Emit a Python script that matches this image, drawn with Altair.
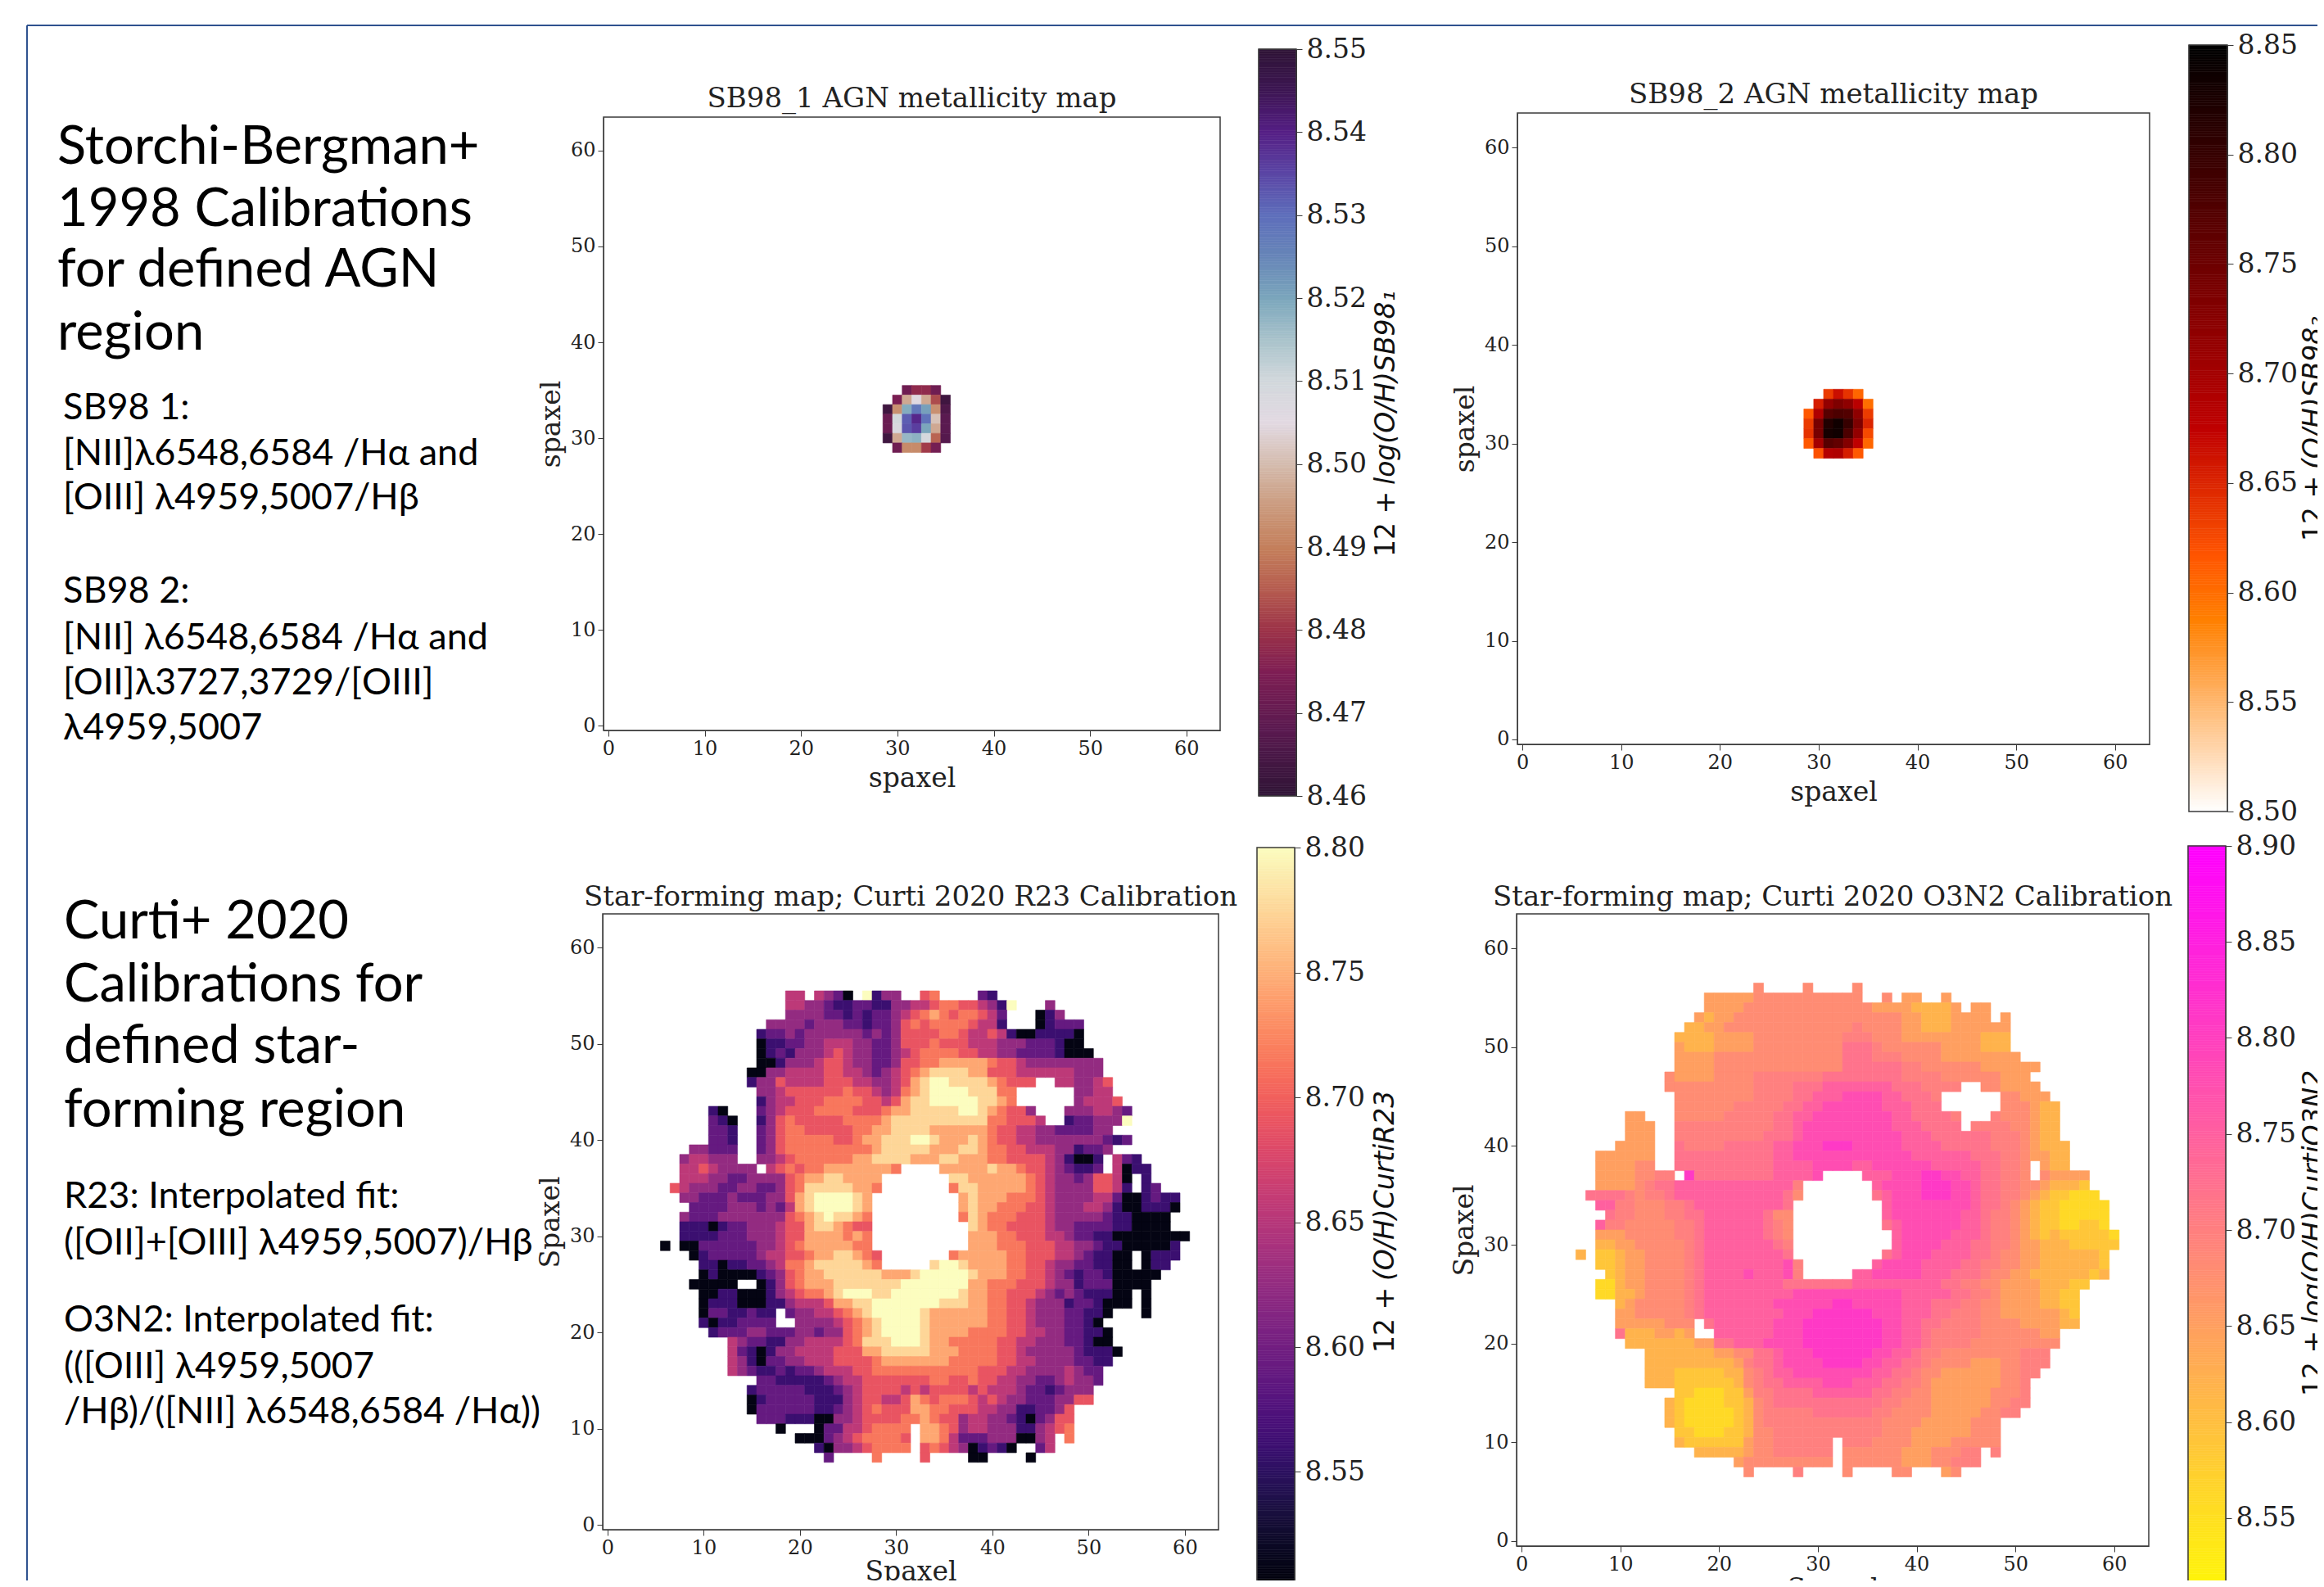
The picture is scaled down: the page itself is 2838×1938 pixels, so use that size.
import altair as alt
import pandas as pd

W, H = 2822, 1922   # canvas; the page adds 8 px all round
OFF = 8

# ---------- map values ----------
# row number -> (first column, one code per column, '.' = no data; spaces only group columns)
R23_LEVELS = {'0': 8.51, '1': 8.56, '2': 8.59, '3': 8.625, '4': 8.655, '5': 8.69, '6': 8.715, '7': 8.745, '8': 8.775, '9': 8.80}
R23_ROWS = {
55: (19, "4 4.4320.913 3..56....2 1"),
54: (19, "4 4332112211 3344566554 319...3"),
53: (19, "3 3332212122 3456765665 42...013"),
52: (17, "333 3233322122 3565666654 41...01222"),
51: (16, "1223 2333333232 3555566544 5410011110"),
50: (16, "0112 2334443322 3555655544 4333222100"),
49: (16, "0121 3334543322 3456666554 4332222100 0"),
48: (16, "0013 3345543322 3556677777 6554333333 33"),
47: (15, "00334 4445544323 4567888877 5554444443 33"),
46: (15, "13354 4445554433 4578998888 76555..443 345"),
45: (16, "3345 5555565543 4678999988 866......3 344"),
44: (16, "1344 5556666554 5788999998 876......3 4445"),
43: (11, "10...2345 5566665556 7788888998 76553...33 34432"),
42: (11, "210..1356 5555566667 8888888888 665554..12 23339"),
41: (11, "221..2356 6555556677 8888777777 6554433222 233"),
40: (11, "221..2356 6666556778 8899877787 6554433333 33212"),
39: (9, "3 3222..2356 6666666678 8888777887 6655444331 223"),
38: (8, "34 4333..3345 6666667788 8877788777 6655554310 01.421"),
37: (8, "44 543333.456 5667777777 6....77777 8776554321 12.4011"),
36: (8, "44 4332233335 677887777. ......8877 7777654332 35540.1"),
35: (7, "543 3322332235 688888776. ......6887 7777654333 35541.12"),
34: (8, "33 2223222335 78999987.. .......787 7766654333 3442001211"),
33: (9, "2 2223332324 78999987.. .......787 7666554333 4431001110"),
32: (8, "32 2233333335 67898876.. .......687 6665554333 332110000"),
31: (8, "11 1012233345 57887655.. ........87 6655554332 222110000"),
30: (8, "11 1122233345 57777676.. ........77 7665554432 2110000000 0"),
29: (6, "0.00 2222223345 67777766.. ........77 7666555443 3211000001"),
28: (9, "0 1222223445 567788765. ......6777 7766555443 21100.0111"),
27: (10, "1101122346 678888876. ....899877 7766554332 21100.011"),
26: (10, "0100001235 6778888887 7789999987 7766554321 22100000"),
25: (9, "0 0000..0135 6777888888 8999999977 6665554331 2220000"),
24: (10, "0011000134 5667899988 9999999877 6655543232 11100.0"),
23: (10, "0111000113 4445778899 9999988877 6655433312 21000.0"),
22: (10, "02211211.2 3344567899 9998777777 6655433322 110...0"),
21: (10, "10112222.. 3333456789 9998777777 6655433322 10"),
20: (11, "122233222 3323356789 9998777766 6655443322 110"),
19: (13, "4322113 3444456888 9998776666 6554433322 100"),
18: (13, "4210133 4444555778 8888777666 6554333332 1110"),
17: (13, "4310223 3444555567 7777776666 6554433332 211"),
16: (13, "4321121 2234445566 6666666665 5544333343 22"),
15: (16, "2211 1112344555 5555665565 5443322343 32"),
14: (15, "12222 2111234555 5454555545 4443221233 3"),
13: (15, "01222 2211134554 4576566654 5433222335 5"),
12: (15, "02222 2211234565 5577665554 433112235"),
11: (16, "2221 1100334555 5667655344 332102355"),
10: (18, "0. ..02244566 66.7765344 333113456"),
9: (20, "0002345666 65.7764222 3330034.6"),
8: (22, "10334566 66.5654301 210..24"),
7: (23, "2....6....5....00....0"),
}

O3N2_LEVELS = {'0': 8.56, '1': 8.59, '2': 8.62, '3': 8.65, '4': 8.68, '5': 8.70, '6': 8.72, '7': 8.75, '8': 8.78, '9': 8.81}
O3N2_ROWS = {
56: (24, "4....4....4"),
55: (19, "3333344444444444" + ".." + "4" + "." + "33" + ".." + "3"),
54: (19, "3333" + "4444444444444" + "3333" + "2222" + "3" + "." + "33"),
53: (18, "3233" + "44444444444444444" + "33222" + "3333" + "." + "3"),
52: (17, "2233" + "4444444444444" + "54444" + "33" + "222" + "333333"),
51: (16, "2222" + "3333" + "444444444" + "555" + "444" + "3333" + "3333" + "222"),
50: (16, "3222" + "3333" + "444444444" + "666" + "544" + "4444" + "3333" + "222"),
49: (16, "3333" + "4444" + "444444444" + "666" + "555" + "4444" + "3333" + "3333"),
48: (16, "3333" + "4444" + "444444444" + "666" + "666" + "5544" + "4444" + "3333" + "33"),
47: (15, "4" + "3333" + "4444" + "5555" + "55566" + "666" + "666" + "5555" + "4444" + "4433" + "3"),
46: (15, "4" + "4444" + "4444" + "5555" + "66677" + "777" + "776" + "6655" + "55" + ".." + "44" + "33" + "33"),
45: (16, "4444" + "4444" + "5555" + "66777" + "888" + "877" + "6665" + "......" + "44" + "333"),
44: (16, "4444" + "4455" + "5556" + "67788" + "888" + "877" + "7666" + "......" + "44" + "4322"),
43: (11, "33" + "..." + "4444" + "4555" + "5566" + "77888" + "888" + "887" + "7666" + "65" + "..." + "54" + "44" + "322"),
42: (11, "333" + ".." + "5555" + "5555" + "5566" + "78888" + "888" + "887" + "7766" + "66" + "." + "55" + "55" + "44" + "322"),
41: (11, "333" + ".." + "5555" + "5555" + "5666" + "78888" + "888" + "888" + "7776" + "666" + "66" + "55" + "54" + "322"),
40: (10, "3333" + ".." + "6555" + "5666" + "6677" + "88899" + "988" + "888" + "7777" + "666" + "66" + "55" + "54" + "3222"),
39: (8, "333333" + ".." + "6666" + "6666" + "6677" + "88888" + "888" + "888" + "8777" + "777" + "66" + "65" + "54" + "3322"),
38: (8, "333344" + ".." + "6666" + "6666" + "6677" + "77888" + "877" + "888" + "8887" + "777" + "76" + "65" + "5" + "4" + "." + "322"),
37: (8, "33334455" + "." + "966" + "6666" + "6677" + "778" + "...." + "7778" + "8899" + "887" + "76" + "65" + "5" + "4" + "." + "4" + "3333"),
36: (8, "33334566" + "7777" + "7777" + "7777" + "5" + "......." + "7888" + "8999" + "88" + "76" + "65" + "54" + "43" + "22" + "21"),
35: (7, "6666" + "5455" + "6777" + "7777" + "7777" + "64" + "......." + "6788" + "8999" + "88" + "76" + "65" + "54" + "32" + "1100" + "0"),
34: (8, "77" + "5544" + "45" + "5677" + "7777" + "7776" + "........." + "788" + "8888" + "88" + "76" + "65" + "43" + "21" + "100" + "000"),
33: (9, "6554" + "445" + "5667" + "7777" + "7644" + "........." + "788" + "8888" + "87" + "76" + "55" + "43" + "21" + "100" + "000"),
32: (8, "7" + "5544" + "444" + "5567" + "7777" + "7654" + "........." + "678" + "8888" + "87" + "76" + "55" + "43" + "21" + "100" + "110"),
31: (8, "3" + "33444" + "44" + "5567" + "7777" + "7654" + ".........." + "78" + "8888" + "77" + "76" + "55" + "43" + "21" + "211" + "1110"),
30: (8, "2" + "23344" + "44" + "4567" + "7777" + "7765" + ".........." + "78" + "8887" + "77" + "66" + "55" + "43" + "32" + "221" + "1111"),
29: (6, "2" + "." + "1" + "12334" + "44" + "4567" + "7777" + "7776" + "........." + "678" + "8877" + "77" + "66" + "54" + "43" + "32" + "222" + "221"),
28: (8, "1" + "12334" + "44" + "4567" + "7777" + "7778" + "5" + "......." + "788" + "8" + "8777" + "76" + "65" + "54" + "43" + "32" + "222" + "221"),
27: (9, "12334" + "44" + "4567" + "7778" + "7778" + "5" + "....." + "778" + "8888" + "7776" + "66" + "54" + "43" + "32" + "222" + "221" + "2"),
26: (8, "00" + "2334" + "44" + "4567" + "7777" + "7776" + "6" + "6666" + "6777" + "7777" + "7766" + "55" + "44" + "33" + "33" + "222" + "11"),
25: (8, "00" + "2234" + "44" + "4567" + "7777" + "7777" + "8888" + "8888" + "8887" + "7777" + "665" + "54" + "33" + "33" + "2211"),
24: (10, "2344" + "44" + "4567" + "7777" + "7788" + "8888" + "9988" + "8887" + "7766" + "655" + "44" + "33" + "33" + "2211"),
23: (10, "3344" + "44" + "4567" + "7777" + "7778" + "8899" + "9999" + "8887" + "7766" + "555" + "44" + "33" + "33" + "3321"),
22: (10, "3333" + "34" + "44" + "." + "6" + "7777" + "7788" + "8999" + "9999" + "9887" + "7665" + "555" + "44" + "44" + "33" + "3322"),
21: (10, "6" + "222" + "33" + "23" + ".." + "7777" + "7788" + "8999" + "9999" + "9887" + "7655" + "555" + "44" + "44" + "44" + "33"),
20: (11, "222" + "22" + "2233" + "6677" + "7888" + "8999" + "9999" + "9887" + "7655" + "554" + "44" + "44" + "44" + "44"),
19: (13, "222" + "2222" + "3344" + "6678" + "8899" + "9999" + "8877" + "6554" + "444" + "44" + "44" + "555"),
18: (13, "222" + "2222" + "2235" + "6678" + "8889" + "9998" + "8776" + "6544" + "443" + "33" + "44" + "555"),
17: (13, "222" + "1111" + "1224" + "5677" + "8888" + "8888" + "7766" + "5443" + "333" + "33" + "44" + "55"),
16: (13, "222" + "1111" + "1124" + "5667" + "7778" + "8877" + "7665" + "5433" + "333" + "33" + "44" + "5"),
15: (16, "1100" + "0113" + "5566" + "6677" + "7777" + "6655" + "4433" + "333" + "34" + "44" + "5"),
14: (15, "2" + "1000" + "0112" + "4566" + "6666" + "6666" + "6554" + "4433" + "333" + "34" + "45" + "5"),
13: (15, "2" + "1000" + "0012" + "4555" + "5566" + "6666" + "5544" + "4433" + "333" + "44" + "55"),
12: (15, "2" + "1000" + "0012" + "4555" + "5555" + "5555" + "5444" + "4333" + "334" + "44"),
11: (16, "1100" + "0112" + "4455" + "5555" + "5555" + "5444" + "3333" + "334" + "44"),
10: (16, "2111" + "1113" + "4455" + "5555" + "." + "555" + "4444" + "3333" + "444" + "44"),
9: (18, "22" + "2223" + "4455" + "5555" + "." + "444" + "4443" + "3344" + "455" + "." + "5"),
8: (22, "34" + "4444" + "4444" + "." + "444" + "4443" + "3344" + "555"),
7: (23, "4" + "...." + "5" + "...." + "4" + "...." + "44" + "..." + "34"),
}

SB1_ROWS = {
35: (31, [8.472, 8.478, 8.478, 8.472]),
34: (30, [8.474, 8.497, 8.506, 8.497, 8.483, 8.463]),
33: (29, [8.463, 8.493, 8.519, 8.528, 8.521, 8.493, 8.466]),
32: (29, [8.471, 8.510, 8.532, 8.539, 8.529, 8.501, 8.468]),
31: (29, [8.471, 8.508, 8.533, 8.536, 8.520, 8.497, 8.468]),
30: (29, [8.463, 8.497, 8.517, 8.518, 8.509, 8.486, 8.467]),
29: (30, [8.472, 8.492, 8.492, 8.481, 8.473]),
}
SB2_ROWS = {
35: (31, [8.635, 8.665, 8.640, 8.605]),
34: (30, [8.655, 8.715, 8.735, 8.720, 8.680, 8.600]),
33: (29, [8.615, 8.690, 8.770, 8.780, 8.775, 8.720, 8.635]),
32: (29, [8.635, 8.740, 8.820, 8.835, 8.800, 8.735, 8.650]),
31: (29, [8.640, 8.740, 8.830, 8.835, 8.780, 8.715, 8.625]),
30: (29, [8.615, 8.700, 8.770, 8.760, 8.730, 8.675, 8.605]),
29: (30, [8.620, 8.685, 8.690, 8.655, 8.615]),
}

TICKS_MAP = [0, 10, 20, 30, 40, 50, 60]
TICKS_A = [8.46, 8.47, 8.48, 8.49, 8.50, 8.51, 8.52, 8.53, 8.54, 8.55]
TICKS_B = [8.50, 8.55, 8.60, 8.65, 8.70, 8.75, 8.80, 8.85]
TICKS_C = [8.50, 8.55, 8.60, 8.65, 8.70, 8.75, 8.80]
TICKS_D = [8.55, 8.60, 8.65, 8.70, 8.75, 8.80, 8.85, 8.90]

SCALE_A = dict(domain=[8.46, 8.468, 8.475, 8.48, 8.485, 8.49, 8.495, 8.50, 8.505, 8.51, 8.515, 8.52, 8.525, 8.53, 8.535, 8.54, 8.545, 8.55],
               range=["#2f1436", "#5a1a50", "#7f1f54", "#9c3348", "#b65d50", "#c4805c", "#cb9b7f", "#d4bcae", "#e2d9e2",
                      "#d2d8dc", "#a9c3cb", "#7ba6bc", "#6786b8", "#5e6ebb", "#5b46a5", "#551f85", "#3d1653", "#2f1436"],
               interpolate="rgb")
SCALE_B = dict(domain=[8.50, 8.5875, 8.617, 8.675, 8.85], range=["#ffffff", "#ff8000", "#ff5500", "#bf0000", "#000000"], interpolate="rgb")
SCALE_C = dict(domain=[8.50, 8.80], scheme="magma")
SCALE_D = dict(domain=[8.50, 8.90], range=["#ffff00", "#ff00ff"], interpolate="rgb")

HEAD1 = ["Storchi-Bergman+", "1998 Calibrations", "for defined AGN", "region"]
HEAD1_Y = [200, 276, 350, 427]
SUB1 = ["SB98 1:", "[NII]λ6548,6584 /Hα and", "[OIII] λ4959,5007/Hβ", "SB98 2:", "[NII] λ6548,6584 /Hα  and", "[OII]λ3727,3729/[OIII]", "λ4959,5007"]
SUB1_Y = [512, 568, 622, 736, 793, 848, 903]
HEAD2 = ["Curti+ 2020", "Calibrations for", "defined star-", "forming region"]
HEAD2_Y = [1146, 1223, 1298, 1376]
SUB2 = ["R23: Interpolated fit:", "([OII]+[OIII] λ4959,5007)/Hβ", "O3N2: Interpolated fit:", "(([OIII] λ4959,5007", "/Hβ)/([NII] λ6548,6584 /Hα))"]
SUB2_Y = [1475, 1532, 1626, 1683, 1738]

SERIF = "DejaVu Serif"
INK = "#3a3a3a"


def cells(rows, levels=None):
    out = []
    for row, (start, codes) in rows.items():
        if isinstance(codes, str):
            codes = codes.replace(" ", "")
        for k, c in enumerate(codes):
            if c == '.':
                continue
            v = levels[c] if levels else c
            col = start + k
            out.append({"x0": col - .5, "x1": col + .5, "y0": row - .5, "y1": row + .5, "v": v})
    return pd.DataFrame(out)


def text_layer(xs, ys, texts, size, font="Lato", angle=None, style=None, color="#000000", align="left", baseline="alphabetic", weight=None):
    df = pd.DataFrame({"px": [x - OFF for x in xs], "py": [y - OFF for y in ys], "t": texts})
    kw = dict(align=align, baseline=baseline, font=font, fontSize=size, color=color)
    if angle is not None:
        kw["angle"] = angle
    if style:
        kw["fontStyle"] = style
    if weight:
        kw["fontWeight"] = weight
    return alt.Chart(df).mark_text(**kw).encode(
        x=alt.X("px:Q", scale=None, axis=None),
        y=alt.Y("py:Q", scale=None, axis=None),
        text="t:N")


def map_layers(box, rows, levels, cscale, xtitle, ytitle, title, title_y, xpad=8):
    xl, xr, yt, yb = [b - OFF for b in box]
    sx = alt.Scale(domain=[-0.5, 63.5], range=[xl, xr], nice=False, zero=False)
    sy = alt.Scale(domain=[-0.5, 63.5], range=[yb, yt], nice=False, zero=False)
    ax = dict(grid=False, values=TICKS_MAP, format="d", labelFont=SERIF, labelFontSize=24, labelColor="#222222",
              tickColor=INK, domainColor=INK, tickSize=7, titleFont=SERIF, titleFontWeight="normal", titleColor="#222222")
    heat = alt.Chart(cells(rows, levels)).mark_rect(strokeWidth=0.6).encode(
        x=alt.X("x0:Q", scale=sx, axis=alt.Axis(orient="bottom", offset=yb - H, title=xtitle, titleFontSize=33, labelPadding=3, titlePadding=xpad, **ax)),
        x2="x1:Q",
        y=alt.Y("y0:Q", scale=sy, axis=alt.Axis(orient="left", offset=-xl, title=ytitle, titleFontSize=33, labelPadding=3, titlePadding=6, **ax)),
        y2="y1:Q",
        color=alt.Color("v:Q", scale=alt.Scale(**cscale), legend=None),
        stroke=alt.Stroke("v:Q", scale=alt.Scale(**cscale), legend=None))
    frame = alt.Chart(pd.DataFrame({"a": [-0.5], "b": [63.5]})).mark_rect(filled=False, stroke=INK, strokeWidth=1.5).encode(
        x=alt.X("a:Q", scale=sx, axis=None), x2="b:Q",
        y=alt.Y("a:Q", scale=sy, axis=None), y2="b:Q")
    head = text_layer([(box[0] + box[1]) / 2], [title_y], [title], 34, font=SERIF, align="center", color="#222222")
    return [heat, frame, head]


def bar_layers(box, y_top, y_low, dom, ticks, cscale):
    xl, xr = box[0] - OFF, box[1] - OFF
    sx = alt.Scale(domain=[0, 1], range=[xl, xr], nice=False, zero=False)
    sy = alt.Scale(domain=dom, range=[y_low - OFF, y_top - OFF], nice=False, zero=False)
    n = 320
    step = (dom[1] - dom[0]) / n
    ramp = pd.DataFrame({"a": [0] * n, "b": [1] * n,
                         "lo": [dom[0] + i * step for i in range(n)],
                         "hi": [dom[0] + (i + 1) * step for i in range(n)],
                         "v": [dom[0] + (i + .5) * step for i in range(n)]})
    r = alt.Chart(ramp).mark_rect(strokeWidth=0.6).encode(
        x=alt.X("a:Q", scale=sx, axis=None), x2="b:Q",
        y=alt.Y("lo:Q", scale=sy, axis=alt.Axis(orient="right", offset=xr - W, grid=False, values=ticks, format=".2f", title=None,
                                                labelFont=SERIF, labelFontSize=33, labelColor="#222222", labelPadding=5,
                                                tickColor=INK, domainColor=INK, tickSize=7)),
        y2="hi:Q",
        color=alt.Color("v:Q", scale=alt.Scale(**cscale), legend=None),
        stroke=alt.Stroke("v:Q", scale=alt.Scale(**cscale), legend=None))
    f = alt.Chart(pd.DataFrame({"a": [0], "b": [1], "lo": [dom[0]], "hi": [dom[1]]})).mark_rect(filled=False, stroke=INK, strokeWidth=1.5).encode(
        x=alt.X("a:Q", scale=sx, axis=None), x2="b:Q",
        y=alt.Y("lo:Q", scale=sy, axis=None), y2="hi:Q")
    return [r, f]


def bar_title(x, y, rest, up=88):
    return [text_layer([x], [y], ["12 + "], 33, font="DejaVu Sans", angle=270, color="#111111"),
            text_layer([x], [y - up], [rest], 33, font="DejaVu Sans", angle=270, style="italic", color="#111111")]


layers = []
layers += map_layers((737, 1490, 143, 892), SB1_ROWS, None, SCALE_A, "spaxel", "spaxel", "SB98_1 AGN metallicity map", 131)
layers += map_layers((1853, 2625, 138, 909), SB2_ROWS, None, SCALE_B, "spaxel", "spaxel", "SB98_2 AGN metallicity map", 126)
layers += map_layers((736, 1488, 1116, 1868), R23_ROWS, R23_LEVELS, SCALE_C, "Spaxel", "Spaxel", "Star-forming map; Curti 2020 R23 Calibration", 1106, xpad=1)
layers += map_layers((1852, 2624, 1116, 1888), O3N2_ROWS, O3N2_LEVELS, SCALE_D, "Spaxel", "Spaxel", "Star-forming map; Curti 2020 O3N2 Calibration", 1106, xpad=2)

layers += bar_layers((1537, 1583), 60, 972, [8.46, 8.55], TICKS_A, SCALE_A)
layers += bar_layers((2673, 2720), 55, 991, [8.50, 8.85], TICKS_B, SCALE_B)
layers += bar_layers((1535, 1581), 1035, 1950, [8.50, 8.80], TICKS_C, SCALE_C)
layers += bar_layers((2672, 2718), 1033, 1971, [8.50, 8.90], TICKS_D, SCALE_D)

layers += bar_title(1703, 680, "log(O/H)SB98₁")
layers += bar_title(2836, 661, "(O/H)SB98₂")
layers += bar_title(1702, 1652, "(O/H)CurtiR23")
layers += bar_title(2836, 1705, "log(O/H)CurtiO3N2")

layers.append(text_layer([70] * 4, HEAD1_Y, HEAD1, 65))
layers.append(text_layer([77] * 7, SUB1_Y, SUB1, 45))
layers.append(text_layer([78] * 4, HEAD2_Y, HEAD2, 65))
layers.append(text_layer([78] * 5, SUB2_Y, SUB2, 45))

# slide frame lines
FRAME_BLUE = "#2f528f"
layers.append(alt.Chart(pd.DataFrame({"a": [0]})).mark_rule(color=FRAME_BLUE, strokeWidth=2).encode(
    x=alt.value(33 - OFF), y=alt.value(31 - OFF), y2=alt.value(H)))
layers.append(alt.Chart(pd.DataFrame({"a": [0]})).mark_rule(color=FRAME_BLUE, strokeWidth=2).encode(
    x=alt.value(33 - OFF), x2=alt.value(W), y=alt.value(31 - OFF)))

chart = alt.layer(*layers).resolve_scale(
    x="independent", y="independent", color="independent", stroke="independent"
).resolve_axis(x="independent", y="independent").properties(
    width=W, height=H, padding=0, autosize=alt.AutoSizeParams(type="none"), background="white"
).configure_view(stroke=None)

chart.save("out.html", embed_options={"renderer": "svg", "actions": False})
